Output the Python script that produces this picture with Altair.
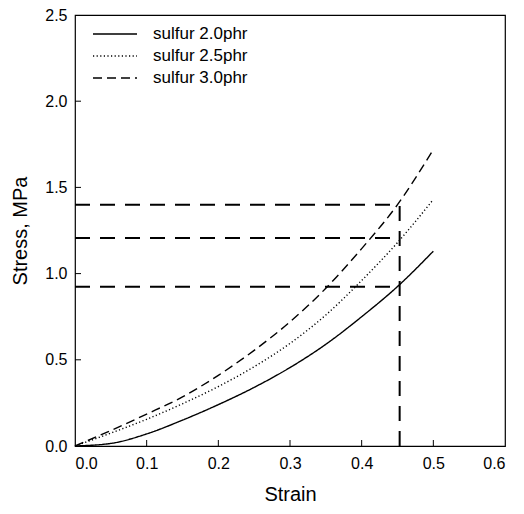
import altair as alt
import pandas as pd

# ---- data ----
series_names = ["sulfur 2.0phr", "sulfur 2.5phr", "sulfur 3.0phr"]
strain = [0.0, 0.05, 0.10, 0.15, 0.20, 0.25, 0.30, 0.35, 0.40, 0.45, 0.50]
stress_20 = [0.0, 0.015, 0.07, 0.15, 0.24, 0.34, 0.455, 0.59, 0.75, 0.925, 1.13]
stress_25 = [0.0, 0.075, 0.155, 0.245, 0.345, 0.46, 0.595, 0.76, 0.96, 1.18, 1.43]
stress_30 = [0.0, 0.09, 0.185, 0.285, 0.41, 0.555, 0.72, 0.915, 1.145, 1.40, 1.72]

ref_strain = 0.453
ref_stress = [1.40, 1.207, 0.924]

x_ticks = [0.1, 0.2, 0.3, 0.4, 0.5]
y_ticks = [0.5, 1.0, 1.5, 2.0]

W, H = 430, 431
FONT = "Liberation Sans"

rows = []
for name, vals in zip(series_names, [stress_20, stress_25, stress_30]):
    for s, v in zip(strain, vals):
        rows.append({"series": name, "strain": s, "stress": v})
df = pd.DataFrame(rows)

dash_scale = alt.Scale(domain=series_names, range=[[1, 0], [1.2, 2.4], [9, 5]])
xs = alt.Scale(domain=[0, 0.6], nice=False)
ys = alt.Scale(domain=[0, 2.5], nice=False)

curves = alt.Chart(df).mark_line(color="black", strokeWidth=1.4, interpolate="monotone").encode(
    x=alt.X("strain:Q", scale=xs, title="Strain",
            axis=alt.Axis(values=[0, 0.1, 0.2, 0.3, 0.4, 0.5, 0.6], format=".1f")),
    y=alt.Y("stress:Q", scale=ys, title="Stress, MPa",
            axis=alt.Axis(values=[0, 0.5, 1.0, 1.5, 2.0, 2.5], format=".1f")),
    strokeDash=alt.StrokeDash("series:N", scale=dash_scale, legend=None),
    detail="series:N",
)

href = pd.DataFrame({"y": ref_stress, "x0": [0.0] * len(ref_stress), "x1": [ref_strain] * len(ref_stress)})
hlines = alt.Chart(href).mark_rule(color="black", strokeWidth=2, strokeDash=[15, 10]).encode(
    x="x0:Q", x2="x1:Q", y="y:Q"
)
vref = pd.DataFrame({"x": [ref_strain], "y0": [0.0], "y1": [max(ref_stress)]})
vline = alt.Chart(vref).mark_rule(color="black", strokeWidth=2, strokeDash=[15, 10]).encode(
    x="x:Q", y="y0:Q", y2="y1:Q"
)

xt = alt.Chart(pd.DataFrame({"v": x_ticks})).mark_rule(color="black", strokeWidth=1).encode(
    x="v:Q", y=alt.value(H - 6), y2=alt.value(H)
)
yt = alt.Chart(pd.DataFrame({"v": y_ticks})).mark_rule(color="black", strokeWidth=1).encode(
    y="v:Q", x=alt.value(0), x2=alt.value(6)
)

leg = pd.DataFrame({"series": series_names})
leg_y = alt.Y("series:N", scale=alt.Scale(type="point", domain=series_names, range=[19, 63], padding=0),
              axis=None)
leg_lines = alt.Chart(leg).mark_rule(color="black", strokeWidth=1.4).encode(
    x=alt.value(18), x2=alt.value(62), y=leg_y,
    strokeDash=alt.StrokeDash("series:N", scale=dash_scale, legend=None),
)
leg_text = alt.Chart(leg).mark_text(align="left", baseline="middle", font=FONT, fontSize=17, color="black").encode(
    x=alt.value(78), y=leg_y, text="series:N"
)

main = alt.layer(hlines, vline, curves, xt, yt)
legend = alt.layer(leg_lines, leg_text)

chart = alt.layer(main, legend).resolve_scale(y="independent").properties(
    width=W, height=H,
    padding={"left": 67, "top": 7, "right": 11, "bottom": 60},
    autosize=alt.AutoSizeParams(type="none"),
).configure_view(stroke="black", strokeWidth=1.2).configure_axis(
    domain=False, ticks=False, grid=False,
    labelFont=FONT, labelFontSize=16, labelColor="black",
    titleFont=FONT, titleFontSize=20, titleFontWeight="normal", titleColor="black",
).configure_axisX(labelPadding=9, titlePadding=13).configure_axisY(labelPadding=8, titlePadding=14)

chart.save("out.html", embed_options={"renderer": "svg", "actions": False})
